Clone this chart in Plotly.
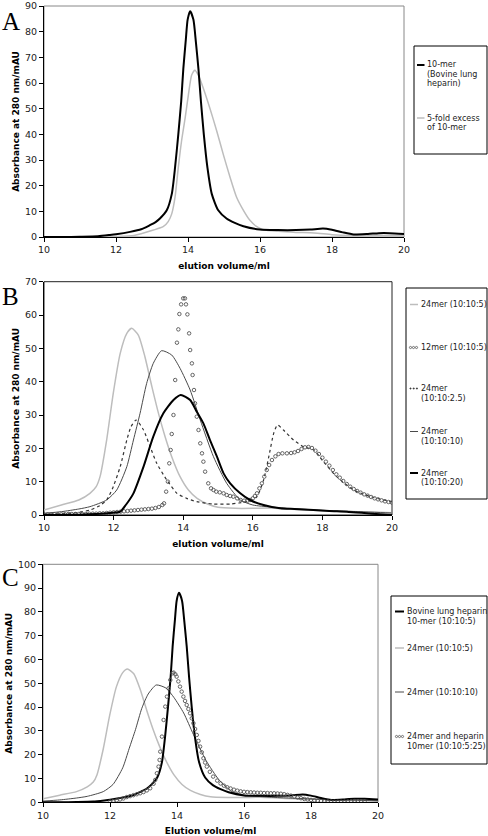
import plotly.graph_objects as go

# ---------------- DATA ----------------
# Panel A / C : 10-mer bovine lung heparin (black)
heparin10_x = [10, 10.5, 11, 11.5, 11.83, 12.0, 12.39, 12.7, 12.94, 13.1, 13.22, 13.41, 13.55, 13.64, 13.73,
               13.81, 13.87, 13.94, 13.99, 14.06, 14.15, 14.22, 14.29, 14.36, 14.44, 14.54, 14.66, 14.84,
               15.07, 15.3, 15.54, 16.0, 16.5, 17.0, 17.4, 17.75, 18.0, 18.3, 18.6, 19.0, 19.3, 19.6, 20.0]
heparin10_y = [0, 0, 0.1, 0.3, 0.8, 1.1, 2.0, 3.0, 4.6, 5.8, 7.2, 10.4, 16.8, 27, 39.9,
               52.7, 65.5, 77, 84.7, 88, 84.7, 75.8, 65.5, 52.7, 39.9, 27, 16.8, 10.4,
               7.2, 5.5, 4.2, 2.9, 2.7, 2.7, 2.9, 3.3, 2.8, 1.8, 1.0, 1.2, 1.5, 1.5, 1.2]

# Panel A : 5-fold excess of 10-mer (light grey)
excess10_x = [10, 11, 12, 12.5, 13.04, 13.31, 13.45, 13.55, 13.64, 13.73, 13.82, 13.92, 14.01, 14.1, 14.19,
              14.29, 14.43, 14.61, 14.8, 14.98, 15.17, 15.35, 15.54, 15.72, 15.91, 16.1, 16.5, 17.0, 17.5,
              18.0, 18.5, 19.0, 19.5, 20.0]
excess10_y = [0, 0, 0.2, 0.6, 2.7, 4.0, 6.0, 9.1, 15.5, 27, 37.3, 46.3, 55.3, 63, 65,
              63, 57.8, 50.1, 41.2, 32.2, 23.2, 15.5, 10.4, 6.5, 4.0, 2.8, 2.2, 1.8, 1.6,
              0.9, 0.6, 0.7, 0.6, 0.5]

# 24mer (10:10:5) light grey (B, C)
m24_5_x = [10, 10.5, 11, 11.32, 11.5, 11.61, 11.8, 11.99, 12.19, 12.38, 12.52, 12.71, 12.9, 13.1, 13.29,
           13.48, 13.67, 13.91, 14.15, 14.4, 14.7, 15.0, 15.5, 16.0, 16.5, 17.0, 17.5, 18.0, 18.5, 19.0,
           19.5, 20.0]
m24_5_y = [1.5, 3, 4.5, 6.5, 8.5, 11.5, 22.5, 36.5, 48.5, 54.5, 56, 54, 47.5, 38.5, 30.5,
           23.5, 17.5, 11.5, 7.5, 5.0, 3.3, 2.3, 2.0, 2.0, 2.1, 1.8, 1.5, 1.3, 1.2, 1.0,
           0.9, 0.7]

# 24mer (10:10:10) thin dark line (B, C)
m24_10_x = [10, 10.5, 11, 11.32, 11.8, 12.09, 12.38, 12.57, 12.76, 12.95, 13.14, 13.38, 13.67, 13.91,
            14.2, 14.49, 14.87, 15.25, 15.64, 16.0, 16.5, 17.0, 17.5, 18.0, 18.5, 19.0, 19.5, 20.0]
m24_10_y = [0.5, 1.0, 1.8, 2.5, 4.5, 7.5, 14.5, 22.5, 30.5, 39.5, 45.5, 49.3, 48, 44,
            37.5, 28.5, 17.5, 9.5, 4.5, 3.0, 2.4, 2.0, 1.7, 1.4, 1.2, 1.0, 0.8, 0.6]

# 24mer (10:10:20) thick black (B)
m24_20_x = [10, 10.5, 11, 11.5, 11.9, 12.19, 12.35, 12.57, 12.86, 13.14, 13.43, 13.72, 13.93, 14.2, 14.39,
            14.58, 14.77, 14.97, 15.16, 15.35, 15.64, 15.92, 16.31, 16.79, 17.2, 17.74, 18.2, 18.7, 19.2,
            19.66, 20.0]
m24_20_y = [0, 0, 0.1, 0.3, 0.6, 1.0, 3.0, 6.5, 14.5, 23.5, 30.5, 34.5, 36, 34.5, 31,
            27.5, 22.5, 17.5, 12.5, 9.5, 6.5, 4.5, 3.0, 2.0, 1.8, 1.5, 1.2, 1.0, 0.6,
            0.2, 0.0]

# 24mer (10:10:2.5) "+" markers (B)
m24_25_x = [10, 10.5, 11, 11.32, 11.6, 11.8, 11.99, 12.19, 12.38, 12.5, 12.65, 12.86, 13.05, 13.24, 13.53,
            13.82, 14.1, 14.39, 14.87, 15.35, 15.6, 15.83, 16.0, 16.12, 16.31, 16.46, 16.6, 16.71, 16.88,
            17.17, 17.46, 17.75, 18.03, 18.41, 18.9, 19.38, 20.0]
m24_25_y = [0.2, 0.4, 0.8, 1.5, 2.8, 4.5, 8.5, 14.5, 22.5, 26.5, 28.5, 25.5, 20.5, 15.5, 10.5,
            6.5, 5.0, 4.0, 3.3, 3.3, 3.6, 4.0, 4.6, 5.5, 10.5, 17.5, 24.5, 27, 25.5,
            22.5, 20.5, 19.5, 16, 11.5, 7.5, 5.5, 4.0]

# 12mer (10:10:5) circles (B)
m12_5_x = [10.0, 10.1, 10.2, 10.3, 10.4, 10.5, 10.6, 10.7, 10.8, 10.9, 11.0, 11.1, 11.2, 11.3, 11.4, 11.5,
           11.6, 11.7, 11.8, 11.9, 12.0, 12.1, 12.2, 12.3, 12.4, 12.5, 12.6, 12.7, 12.8, 12.9, 13.0, 13.1,
           13.2, 13.3, 13.4, 13.45, 13.51, 13.56, 13.6, 13.64, 13.67, 13.72, 13.77, 13.82, 13.86, 13.89,
           13.94, 14.0, 14.05, 14.08, 14.12, 14.17, 14.2, 14.25, 14.27, 14.31, 14.34, 14.39, 14.44, 14.49,
           14.54, 14.58, 14.63, 14.72, 14.8, 14.87, 14.95, 15.05, 15.16, 15.25, 15.35, 15.44, 15.55, 15.65,
           15.75, 15.85, 15.92, 16.0, 16.06, 16.12, 16.19, 16.26, 16.33, 16.4, 16.47, 16.55, 16.65, 16.74,
           16.85, 16.98, 17.1, 17.2, 17.3, 17.4, 17.5, 17.6, 17.7, 17.8, 17.9, 18.0, 18.1, 18.2, 18.3,
           18.4, 18.5, 18.6, 18.7, 18.8, 18.9, 19.0, 19.1, 19.2, 19.3, 19.4, 19.5, 19.6, 19.7, 19.8, 19.9,
           20.0]
m12_5_y = [0.2, 0.2, 0.2, 0.2, 0.2, 0.2, 0.2, 0.3, 0.3, 0.3, 0.3, 0.3, 0.3, 0.4, 0.4, 0.4,
           0.5, 0.5, 0.6, 0.7, 0.8, 0.9, 1.0, 1.1, 1.2, 1.3, 1.4, 1.5, 1.6, 1.7, 1.8, 1.9,
           2.1, 2.4, 3.0, 3.5, 7, 10, 15.5, 19.5, 24.3, 30, 40.5, 51.7, 55.7, 60.3,
           63.2, 65, 65, 63.2, 60.2, 54.5, 49.5, 45.5, 42, 37.5, 33.5, 29.5, 25.5, 21.5,
           18.5, 16, 13, 9.5, 8.0, 7.5, 7.0, 6.8, 6.5, 6.0, 5.7, 5.5, 5.0, 4.5,
           4.3, 4.3, 4.5, 5.0, 5.7, 6.5, 8.0, 9.5, 11.5, 13.5, 15.0, 16.5, 17.6, 18.3,
           18.5, 18.5, 18.6, 18.8, 19.2, 19.8, 20.3, 20.4, 20.1, 19.3, 18.3, 17.2, 16.0, 14.8, 13.5,
           12.2, 11.2, 10.2, 9.3, 8.5, 7.8, 7.2, 6.7, 6.2, 5.8, 5.4, 5.0, 4.7, 4.4, 4.1, 3.9,
           3.7]

# 24mer and heparin 10mer (10:10:5:25) circles (C)
mix_x = [12.0, 12.1, 12.2, 12.3, 12.4, 12.5, 12.6, 12.7, 12.8, 12.9, 13.0, 13.1, 13.2, 13.3, 13.35, 13.4,
         13.45, 13.48, 13.5, 13.55, 13.6, 13.65, 13.7, 13.75, 13.8, 13.87, 13.9, 13.95, 13.99, 14.04, 14.09,
         14.14, 14.19, 14.24, 14.29, 14.34, 14.39, 14.44, 14.49, 14.54, 14.59, 14.64, 14.69, 14.74, 14.79,
         14.84, 14.89, 14.98, 15.08, 15.2, 15.3, 15.4, 15.5, 15.6, 15.7, 15.8, 15.9, 16.0, 16.1, 16.2, 16.3,
         16.4, 16.5, 16.6, 16.7, 16.8, 16.9, 17.0, 17.1, 17.2, 17.3, 17.4, 17.5, 17.6, 17.7, 17.8, 17.9,
         18.0, 18.1, 18.2, 18.3, 18.4, 18.5, 18.6, 18.7, 18.8, 18.9, 19.0, 19.1, 19.2, 19.3, 19.4, 19.5, 19.6]
mix_y = [0.3, 0.5, 0.8, 1.2, 1.6, 2.2, 2.6, 3.0, 3.4, 3.8, 4.3, 5.0, 5.9, 7.8, 9.4, 12.2,
         15, 17.8, 21.3, 27.6, 34.6, 40.2, 44.4, 47.9, 51.4, 54.2, 54.5, 53.8, 52.8, 50.8, 48.6,
         46.5, 44.4, 42.6, 40.9, 39.2, 37.4, 35.3, 33.2, 30.8, 28.3, 25.8, 23.4, 21, 18.5,
         16.7, 15, 12.8, 10.8, 9.1, 7.9, 7.0, 6.3, 5.8, 5.3, 4.9, 4.6, 4.4, 4.3, 4.2, 4.1,
         4.0, 4.0, 3.9, 3.9, 3.8, 3.8, 3.7, 3.6, 3.4, 3.1, 2.8, 2.4, 2.0, 1.7, 1.4, 1.2,
         1.0, 0.8, 0.6, 0.5, 0.4, 0.3, 0.3, 0.2, 0.2, 0.2, 0.2, 0.3, 0.4, 0.5, 0.5, 0.4, 0.3]

x_ticks = [10, 12, 14, 16, 18, 20]
yA_ticks = [0, 10, 20, 30, 40, 50, 60, 70, 80, 90]
yB_ticks = [0, 10, 20, 30, 40, 50, 60, 70]
yC_ticks = [0, 10, 20, 30, 40, 50, 60, 70, 80, 90, 100]

# ---------------- FIGURE ----------------
W, H = 488, 836
def px(x):
    return x / W
def py(y):
    return 1 - y / H

BLACK = "#000000"
LIGHT = "#bdbdbd"
DARK = "#4a4a4a"
CIRC = "#555555"

fig = go.Figure()

def line(x, y, color, width, ax, dash="solid"):
    fig.add_trace(go.Scatter(x=x, y=y, mode="lines", xaxis=ax[0], yaxis=ax[1],
                             line=dict(color=color, width=width, shape="spline", smoothing=0.6, dash=dash),
                             showlegend=False, hoverinfo="skip", cliponaxis=False))

def circles(x, y, ax):
    fig.add_trace(go.Scatter(x=x, y=y, mode="markers", xaxis=ax[0], yaxis=ax[1],
                             marker=dict(symbol="circle-open", size=3.5, color=CIRC, line=dict(width=0.9)),
                             showlegend=False, hoverinfo="skip"))

A = ("x", "y"); B = ("x2", "y2"); C = ("x3", "y3")

# Panel A
line(excess10_x, excess10_y, LIGHT, 1.5, A)
line(heparin10_x, heparin10_y, BLACK, 2, A)
# Panel B
line(m24_5_x, m24_5_y, LIGHT, 1.5, B)
line(m24_10_x, m24_10_y, DARK, 1, B)
line(m24_25_x, m24_25_y, "#333333", 1.2, B, dash="dot")
circles(m12_5_x, m12_5_y, B)
line(m24_20_x, m24_20_y, BLACK, 2, B)
# Panel C
line(m24_5_x, m24_5_y, LIGHT, 1.5, C)
line(m24_10_x, m24_10_y, DARK, 1, C)
line(heparin10_x, heparin10_y, BLACK, 2, C)
circles(mix_x, mix_y, C)

tickfont = dict(family="DejaVu Sans", size=9.5, color="#222222")
titlefont = dict(family="DejaVu Sans", size=9, color="#000000", weight="bold")

def xaxis(domain, anchor, title, standoff):
    return dict(domain=domain, anchor=anchor, range=[10, 20], tickvals=x_ticks, ticks="outside",
                ticklen=4, tickcolor="#000", tickwidth=1, showline=True, linecolor="#000", linewidth=1,
                showgrid=False, zeroline=False, tickfont=tickfont, automargin=False,
                ticklabeloverflow="allow",
                title=dict(text=title, font=titlefont, standoff=standoff))

def yaxis(domain, anchor, rng, ticks, standoff):
    return dict(domain=domain, anchor=anchor, range=rng, tickvals=ticks, ticks="outside",
                ticklen=4, tickcolor="#000", tickwidth=1, showline=True, linecolor="#000", linewidth=1,
                showgrid=False, zeroline=False, tickfont=tickfont, automargin=False,
                ticklabeloverflow="allow",
                title=dict(text="Absorbance at 280 nm/mAU", font=titlefont, standoff=standoff))

fig.update_layout(
    width=W, height=H, autosize=False,
    margin=dict(l=0, r=0, t=0, b=0),
    paper_bgcolor="white", plot_bgcolor="white",
    showlegend=False,
    xaxis=xaxis([px(44), px(404)], "y", "elution volume/ml", 8),
    yaxis=yaxis([py(237), py(6)], "x", [0, 90], yA_ticks, 3),
    xaxis2=xaxis([px(44), px(392)], "y2", "elution volume/ml", 8),
    yaxis2=yaxis([py(515), py(281.7)], "x2", [0, 70], yB_ticks, 3),
    xaxis3=xaxis([px(43), px(378)], "y3", "Elution volume/ml", 9),
    yaxis3=yaxis([py(802.3), py(564.3)], "x3", [0, 100], yC_ticks, 3),
)

shapes = []
annotations = []
# plot-area frames
for xr, yr, col in [("x domain", "y domain", "#888888"), ("x2 domain", "y2 domain", "#222222"),
                    ("x3 domain", "y3 domain", "#888888")]:
    shapes.append(dict(type="rect", xref=xr, yref=yr, x0=0, y0=0, x1=1, y1=1,
                       line=dict(color=col, width=1), fillcolor="rgba(0,0,0,0)", layer="below"))

# panel letters
for letter, x, y in [("A", 11, 22), ("B", 10, 296), ("C", 10, 577)]:
    annotations.append(dict(text=letter, x=px(x), y=py(y), xref="paper", yref="paper",
                            showarrow=False, xanchor="center", yanchor="middle",
                            font=dict(family="Liberation Serif", size=25, color="#000")))

legfont = dict(family="DejaVu Sans", size=8, color="#222222")

def legend_box(x0, y0, x1, y1):
    shapes.append(dict(type="rect", xref="paper", yref="paper", x0=px(x0), y0=py(y1), x1=px(x1), y1=py(y0),
                       line=dict(color="#000", width=1), fillcolor="white"))

def leg_text(lines, x, ys):
    for t, y in zip(lines, ys):
        annotations.append(dict(text=t, x=px(x), y=py(y), xref="paper", yref="paper", showarrow=False,
                                xanchor="left", yanchor="middle", font=legfont))

def leg_line(x0, x1, y, color, width, dash="solid"):
    shapes.append(dict(type="line", xref="paper", yref="paper", x0=px(x0), x1=px(x1), y0=py(y), y1=py(y),
                       line=dict(color=color, width=width, dash=dash)))

def leg_circles(x0, y, n=3, step=3.0):
    for i in range(n):
        cx = x0 + i * step
        shapes.append(dict(type="circle", xref="paper", yref="paper", x0=px(cx - 1.1), x1=px(cx + 1.1),
                           y0=py(y + 1.1), y1=py(y - 1.1), line=dict(color=CIRC, width=0.8)))

def leg_plus(x0, y, n=3, step=3.2):
    for i in range(n):
        cx = x0 + i * step
        leg_line(cx - 1, cx + 1, y, "#333333", 0.8)
        shapes.append(dict(type="line", xref="paper", yref="paper", x0=px(cx), x1=px(cx),
                           y0=py(y - 1), y1=py(y + 1), line=dict(color="#333333", width=0.8)))

# Legend A
legend_box(414, 46, 487, 154)
leg_line(417, 424.5, 65, BLACK, 2)
leg_text(["10-mer", "(Bovine lung", "heparin)"], 425, [65, 74.5, 84])
leg_line(417, 424.5, 118, LIGHT, 1.5)
leg_text(["5-fold excess", "of 10-mer"], 425, [118, 127.5])

# Legend B
legend_box(406, 288, 487, 499)
leg_line(410, 418, 304.5, LIGHT, 1.5)
leg_text(["24mer (10:10:5)"], 419, [304.5])
leg_circles(410.5, 347.5)
leg_text(["12mer (10:10:5)"], 419, [347.5])
leg_plus(410.5, 388.5)
leg_text(["24mer", "(10:10:2.5)"], 419, [388.5, 398])
leg_line(410, 418, 431.5, DARK, 1)
leg_text(["24mer", "(10:10:10)"], 419, [431.5, 441])
leg_line(410, 418, 473, BLACK, 2)
leg_text(["24mer", "(10:10:20)"], 419, [473, 482.5])

# Legend C
legend_box(391, 596, 487, 764)
leg_line(395, 404, 611.5, BLACK, 2)
leg_text(["Bovine lung heparin", "10-mer (10:10:5)"], 404.5, [611.5, 621])
leg_line(395, 404, 648, LIGHT, 1.5)
leg_text(["24mer (10:10:5)"], 404.5, [648])
leg_line(395, 404, 692, DARK, 1)
leg_text(["24mer (10:10:10)"], 404.5, [692])
leg_circles(396.5, 736.5)
leg_text(["24mer and heparin", "10mer (10:10:5:25)"], 404.5, [736.5, 746])

fig.update_layout(shapes=shapes, annotations=annotations)
fig.write_html("out.html", config={"displayModeBar": False},
               post_script="document.body.style.margin='0';document.body.style.overflow='hidden';")
